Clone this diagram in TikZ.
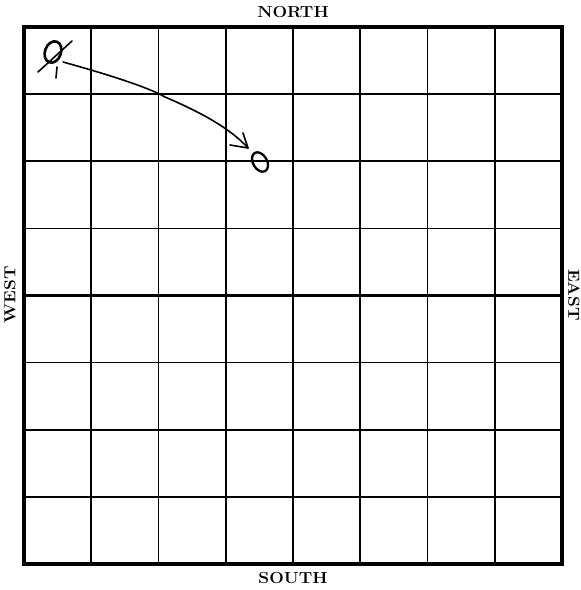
\documentclass[tikz,border=0pt]{standalone}
\usetikzlibrary{arrows.meta}
\begin{document}
\begin{tikzpicture}[x=1pt,y=-1pt,
  gridline/.style={line width=1.7pt},
  boldline/.style={line width=2.6pt},
  frame/.style={line width=3.2pt},
  label/.style={font=\fontsize{16}{18}\selectfont\bfseries, inner sep=0pt},
  pen/.style={line width=1.6pt, line cap=round, line join=round}]
\useasboundingbox (0,0) rectangle (581,590);
% grid lines
\foreach \i in {1,2,3,5,6,7}{
  \draw[gridline] ({24+\i*67.25},27) -- ({24+\i*67.25},564);
  \draw[gridline] (24,{27+\i*67.125}) -- (562,{27+\i*67.125});
}
\draw[boldline] (293,27) -- (293,564);
\draw[boldline] (24,295.5) -- (562,295.5);
\draw[frame] (24,27) rectangle (562,564);
% labels
\node[label,xscale=1.08] (north) at (293,12) {NORTH};
\node[label,xscale=1.08] (south) at (293,578) {SOUTH};
\node[label,rotate=90,xscale=1.08] (west) at (10,295) {WEST};
\node[label,rotate=-90,xscale=1.08] (east) at (574,295) {EAST};
% crossed-out start mark
\coordinate (start) at (53,52);
\draw[pen,line width=2.6pt,rotate around={-20:(start)}] (start) ellipse (8 and 11);
\draw[pen] (72,41) -- (38,72);
\draw[pen] (57,67) -- (56,78);
% end mark
\coordinate (finish) at (260,162);
\draw[pen,line width=2.3pt,rotate around={30:(finish)}] (finish) ellipse (7 and 10.5);
% arrow path
\coordinate (a0) at (63,62);
\coordinate (tip) at (248,148);
\draw[pen] (a0) .. controls (110,75) and (150,88) .. (165,97)
  .. controls (200,112) and (230,128) .. (tip);
\draw[pen] (230,145) -- (tip) -- (243,133);
\end{tikzpicture}
\end{document}
